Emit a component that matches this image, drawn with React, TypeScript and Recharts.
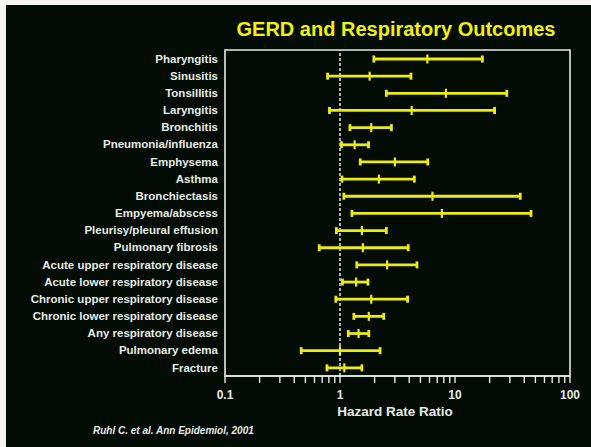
import { ComposedChart, Bar, ErrorBar, XAxis, YAxis, ReferenceLine, ReferenceArea } from "recharts";

const outcomes = [
  "Pharyngitis",
  "Sinusitis",
  "Tonsillitis",
  "Laryngitis",
  "Bronchitis",
  "Pneumonia/influenza",
  "Emphysema",
  "Asthma",
  "Bronchiectasis",
  "Empyema/abscess",
  "Pleurisy/pleural effusion",
  "Pulmonary fibrosis",
  "Acute upper respiratory disease",
  "Acute lower respiratory disease",
  "Chronic upper respiratory disease",
  "Chronic lower respiratory disease",
  "Any respiratory disease",
  "Pulmonary edema",
  "Fracture",
];

const hrLow = [1.97, 0.78, 2.53, 0.81, 1.22, 1.03, 1.5, 1.04, 1.08, 1.27, 0.93, 0.66, 1.4, 1.05, 0.92, 1.32, 1.18, 0.46, 0.77];
const hrMid = [5.75, 1.81, 8.34, 4.2, 1.87, 1.34, 3.0, 2.18, 6.37, 7.69, 1.55, 1.58, 2.57, 1.38, 1.87, 1.78, 1.45, 1.0, 1.09];
const hrHigh = [17.3, 4.14, 28.2, 22.1, 2.8, 1.77, 5.8, 4.43, 36.9, 45.8, 2.53, 3.92, 4.67, 1.75, 3.87, 2.4, 1.78, 2.23, 1.55];

const xTicks = [
  0.1, 0.2, 0.3, 0.4, 0.5, 0.6, 0.7, 0.8, 0.9,
  1, 2, 3, 4, 5, 6, 7, 8, 9,
  10, 20, 30, 40, 50, 60, 70, 80, 90, 100,
];
const xTickLabels = ["0.1", "1", "10", "100"];

const data = outcomes.map((name, i) => ({
  name,
  hr: hrMid[i],
  ci: [hrMid[i] - hrLow[i], hrHigh[i] - hrMid[i]],
}));

const YELLOW = "#ecec12";
const WHITE = "#e6ece6";
const BG = "#030b05";
const FONT = "'Liberation Sans', Arial, sans-serif";

// the bar itself is invisible, only a tick at its value end is drawn
const MidTick = (props: any) => {
  const { x, y, width, height } = props;
  const cx = x + width;
  const cy = y + height / 2;
  return <line x1={cx} x2={cx} y1={cy - 4.5} y2={cy + 4.5} stroke={YELLOW} strokeWidth={2.2} />;
};

export default function App() {
  return (
    <div style={{ position: "absolute", left: 0, top: 0, width: 591, height: 447, background: "#f4f4f0", fontFamily: FONT }}>
      <div style={{ position: "absolute", left: 6, top: 5, width: 585, height: 442, background: BG }} />
      <div
        style={{
          position: "absolute",
          left: 200,
          top: 17,
          width: 392,
          textAlign: "center",
          color: "#f2f20a",
          fontSize: 20,
          fontWeight: "bold",
          lineHeight: "24px",
        }}
      >
        GERD and Respiratory Outcomes
      </div>
      <div style={{ position: "absolute", left: 0, top: 0 }}>
        <ComposedChart
          width={591}
          height={447}
          data={data}
          layout="vertical"
          margin={{ top: 50, right: 21, bottom: 41, left: 5 }}
        >
          <ReferenceArea x1={0.1} x2={100} fill="none" stroke={WHITE} strokeWidth={1.6} ifOverflow="visible" />
          <XAxis
            type="number"
            scale="log"
            domain={[0.1, 100]}
            ticks={xTicks}
            interval={0}
            allowDataOverflow
            height={30}
            tickSize={7}
            tickMargin={7}
            stroke={WHITE}
            axisLine={{ stroke: WHITE, strokeWidth: 1.6 }}
            tickLine={{ stroke: WHITE, strokeWidth: 1.4 }}
            tick={{ fill: WHITE, fontSize: 12, fontWeight: "bold", fontFamily: FONT }}
            tickFormatter={(v: number) => (xTickLabels.includes(String(v)) ? String(v) : "")}
          />
          <YAxis
            type="category"
            dataKey="name"
            width={220}
            interval={0}
            axisLine={false}
            tickLine={false}
            tickSize={0}
            tickMargin={7}
            tick={{ fill: WHITE, fontSize: 11.5, fontWeight: "bold", fontFamily: FONT }}
          />
          <ReferenceLine x={1} stroke={WHITE} strokeWidth={1.5} strokeDasharray="3 2" />
          <Bar dataKey="hr" barSize={10} shape={<MidTick />} isAnimationActive={false}>
            <ErrorBar dataKey="ci" direction="x" width={3.5} stroke={YELLOW} strokeWidth={2.8} />
          </Bar>
        </ComposedChart>
      </div>
      <div
        style={{
          position: "absolute",
          left: 295,
          top: 403,
          width: 200,
          textAlign: "center",
          color: WHITE,
          fontSize: 13.5,
          fontWeight: "bold",
          lineHeight: "18px",
        }}
      >
        Hazard Rate Ratio
      </div>
      <div
        style={{
          position: "absolute",
          left: 93,
          top: 424,
          color: WHITE,
          fontSize: 10,
          fontStyle: "italic",
          fontWeight: "bold",
          lineHeight: "14px",
        }}
      >
        Ruhl C. et al. Ann Epidemiol, 2001
      </div>
    </div>
  );
}
